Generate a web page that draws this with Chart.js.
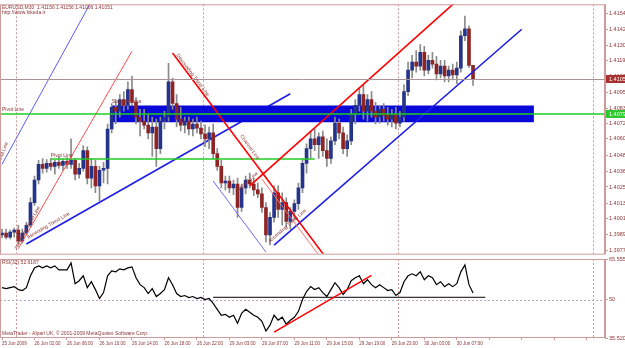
<!DOCTYPE html>
<html lang="en">
<head>
<meta charset="UTF-8">
<title>EURUSD,M30</title>
<style>
    html, body { margin: 0; padding: 0; background: #ffffff; overflow: hidden; }
    #wrap { position: relative; width: 625px; height: 348px; }
    #main { position: absolute; left: 0; top: 0; }
    #rsi { position: absolute; left: 0; top: 254px; }
</style>
<script src="https://cdn.jsdelivr.net/npm/chart.js"></script>
</head>
<body>
<div id="wrap">
    <canvas id="main" width="625" height="258"></canvas>
    <canvas id="rsi" width="625" height="94"></canvas>
</div>
<script>
// ---- data ----
const slots = Array.from({ length: 149 }, (_, i) => i);
const timeLabels = ['25 Jun 2009', '26 Jun 02:00', '26 Jun 06:00', '26 Jun 10:00', '26 Jun 14:00', '26 Jun 18:00',
    '26 Jun 22:00', '29 Jun 03:00', '29 Jun 07:00', '29 Jun 11:00', '29 Jun 15:00', '29 Jun 19:00',
    '29 Jun 23:00', '30 Jun 03:00', '30 Jun 07:00'];
const dayStarts = [4, 50, 98, 146];
const priceTicks = [1.41540, 1.41425, 1.41305, 1.41190, 1.41070, 1.40955, 1.40835, 1.40720,
    1.40608, 1.40485, 1.40365, 1.40250, 1.40130, 1.40015, 1.39895, 1.39775];
const rsiTicks = [65.5557, 50, 35.5205];

const opens = [
    1.39892, 1.39907, 1.39877, 1.39914, 1.39929, 1.39848, 1.39907, 1.39965, 1.40133, 1.40302,
    1.40419, 1.40389, 1.40426, 1.40404, 1.40433, 1.40411, 1.40441, 1.40419, 1.40448, 1.40346,
    1.40389, 1.40521, 1.40316, 1.40404, 1.40258, 1.40375, 1.40389, 1.40682, 1.40843, 1.40814,
    1.40902, 1.40858, 1.40975, 1.40880, 1.40770, 1.40741, 1.40711, 1.40653, 1.40697, 1.40536,
    1.40741, 1.40770, 1.41033, 1.40872, 1.40755, 1.40711, 1.40741, 1.40682, 1.40719, 1.40689,
    1.40645, 1.40609, 1.40653, 1.40499, 1.40404, 1.40280, 1.40294, 1.40243, 1.40272, 1.40097,
    1.40243, 1.40302, 1.40272, 1.40229, 1.40199, 1.40097, 1.39892, 1.40024, 1.40207, 1.40082,
    1.40133, 1.39994, 1.40068, 1.40126, 1.40243, 1.40426, 1.40536, 1.40609, 1.40565, 1.40623,
    1.40521, 1.40462, 1.40594, 1.40726, 1.40653, 1.40536, 1.40594, 1.40792, 1.40858, 1.40938,
    1.40814, 1.40902, 1.40814, 1.40770, 1.40828, 1.40784, 1.40755, 1.40792, 1.40726, 1.40770,
    1.40960, 1.41121, 1.41180, 1.41150, 1.41253, 1.41121, 1.41194, 1.41165, 1.41092, 1.41150,
    1.41077, 1.41121, 1.41084, 1.41136, 1.41377, 1.41428, 1.41156];
const highs = [
    1.39936, 1.39936, 1.39929, 1.39943, 1.39965, 1.39936, 1.39987, 1.40170, 1.40331, 1.40448,
    1.40462, 1.40455, 1.40462, 1.40448, 1.40477, 1.40462, 1.40470, 1.40609, 1.40462, 1.40426,
    1.40558, 1.40550, 1.40462, 1.40448, 1.40404, 1.40433, 1.40719, 1.40872, 1.40902, 1.40938,
    1.40960, 1.41033, 1.41077, 1.40916, 1.40828, 1.40828, 1.40792, 1.40770, 1.40755, 1.40770,
    1.40814, 1.41172, 1.41062, 1.40938, 1.40843, 1.40770, 1.40770, 1.40755, 1.40770, 1.40741,
    1.40711, 1.40697, 1.40719, 1.40536, 1.40448, 1.40331, 1.40331, 1.40302, 1.40316, 1.40272,
    1.40331, 1.40353, 1.40316, 1.40280, 1.40243, 1.40133, 1.40060, 1.40258, 1.40258, 1.40207,
    1.40170, 1.40097, 1.40155, 1.40280, 1.40462, 1.40572, 1.40667, 1.40682, 1.40653, 1.40667,
    1.40609, 1.40623, 1.40770, 1.40755, 1.40697, 1.40638, 1.40828, 1.40902, 1.40989, 1.41011,
    1.40938, 1.40960, 1.40880, 1.40858, 1.40872, 1.40843, 1.40828, 1.40843, 1.40814, 1.41011,
    1.41180, 1.41231, 1.41267, 1.41311, 1.41297, 1.41231, 1.41253, 1.41223, 1.41194, 1.41194,
    1.41150, 1.41165, 1.41180, 1.41414, 1.41523, 1.41450, 1.41156];
const lows = [
    1.39870, 1.39863, 1.39863, 1.39877, 1.39826, 1.39834, 1.39892, 1.39951, 1.40112, 1.40272,
    1.40353, 1.40360, 1.40375, 1.40346, 1.40389, 1.40375, 1.40389, 1.40389, 1.40302, 1.40316,
    1.40367, 1.40272, 1.40243, 1.40207, 1.40148, 1.40280, 1.40272, 1.40653, 1.40719, 1.40770,
    1.40814, 1.40828, 1.40858, 1.40719, 1.40631, 1.40682, 1.40609, 1.40477, 1.40404, 1.40499,
    1.40682, 1.40741, 1.40828, 1.40697, 1.40667, 1.40653, 1.40638, 1.40631, 1.40653, 1.40609,
    1.40550, 1.40536, 1.40462, 1.40375, 1.40243, 1.40229, 1.40207, 1.40192, 1.40024, 1.40068,
    1.40199, 1.40243, 1.40185, 1.40170, 1.40060, 1.39841, 1.39819, 1.39987, 1.40024, 1.39965,
    1.39951, 1.39936, 1.40009, 1.40082, 1.40207, 1.40353, 1.40462, 1.40521, 1.40462, 1.40477,
    1.40404, 1.40426, 1.40565, 1.40609, 1.40499, 1.40477, 1.40565, 1.40719, 1.40814, 1.40755,
    1.40741, 1.40770, 1.40719, 1.40726, 1.40741, 1.40711, 1.40697, 1.40682, 1.40697, 1.40741,
    1.40931, 1.41062, 1.41106, 1.41121, 1.41077, 1.41092, 1.41136, 1.41048, 1.41062, 1.41033,
    1.41033, 1.41048, 1.41019, 1.41106, 1.41340, 1.41140, 1.41006];
const closes = [
    1.39907, 1.39877, 1.39914, 1.39929, 1.39848, 1.39907, 1.39965, 1.40133, 1.40302, 1.40419,
    1.40389, 1.40426, 1.40404, 1.40433, 1.40411, 1.40441, 1.40419, 1.40448, 1.40346, 1.40389,
    1.40521, 1.40316, 1.40404, 1.40258, 1.40375, 1.40389, 1.40682, 1.40843, 1.40814, 1.40902,
    1.40858, 1.40975, 1.40880, 1.40770, 1.40741, 1.40711, 1.40653, 1.40697, 1.40536, 1.40741,
    1.40770, 1.41033, 1.40872, 1.40755, 1.40711, 1.40741, 1.40682, 1.40719, 1.40689, 1.40645,
    1.40609, 1.40653, 1.40499, 1.40404, 1.40280, 1.40294, 1.40243, 1.40272, 1.40097, 1.40243,
    1.40302, 1.40272, 1.40229, 1.40199, 1.40097, 1.39892, 1.40024, 1.40207, 1.40082, 1.40133,
    1.39994, 1.40068, 1.40126, 1.40243, 1.40426, 1.40536, 1.40609, 1.40565, 1.40623, 1.40521,
    1.40462, 1.40594, 1.40726, 1.40653, 1.40536, 1.40594, 1.40792, 1.40858, 1.40938, 1.40814,
    1.40902, 1.40814, 1.40770, 1.40828, 1.40784, 1.40755, 1.40792, 1.40726, 1.40770, 1.40960,
    1.41121, 1.41180, 1.41150, 1.41253, 1.41121, 1.41194, 1.41165, 1.41092, 1.41150, 1.41077,
    1.41121, 1.41084, 1.41136, 1.41377, 1.41428, 1.41156, 1.41051];
const rsi = [
    54.67, 54.29, 54.67, 55.05, 53.92, 53.54, 54.67, 59.17, 62.18, 62.93,
    62.18, 62.93, 62.18, 62.93, 61.43, 61.43, 61.43, 64.05, 56.17, 57.30,
    59.17, 54.67, 56.92, 53.92, 50.54, 52.79, 59.17, 61.05, 60.68, 61.80,
    61.43, 62.18, 62.55, 58.42, 55.80, 54.67, 52.42, 54.29, 51.29, 52.42,
    53.92, 58.42, 55.80, 52.42, 51.29, 51.67, 50.92, 51.29, 50.54, 50.92,
    50.16, 50.54, 48.66, 46.41, 44.16, 44.53, 43.41, 44.16, 41.15, 44.91,
    46.41, 45.28, 44.16, 43.41, 41.90, 38.15, 40.40, 44.16, 42.28, 43.41,
    40.78, 42.28, 43.41, 45.66, 50.16, 53.17, 55.05, 53.92, 54.67, 52.79,
    51.29, 53.92, 56.55, 54.67, 52.04, 53.92, 57.30, 58.42, 59.17, 56.17,
    57.67, 55.80, 54.67, 55.80, 54.67, 53.54, 53.92, 51.67, 52.79, 56.92,
    59.17, 59.93, 59.17, 60.68, 57.67, 59.17, 58.42, 55.80, 56.92, 55.05,
    56.17, 55.05, 56.17, 60.68, 63.30, 55.80, 52.62];

const bidPrice = 1.41051;
const pivotPrice = 1.40797;
const bandTop = 1.40857;
const bandBottom = 1.40733;
const bandFrom = 27, bandTo = 131;

// trend lines: [bar index, price]
const lines = {
    channelUpper: [[0, 1.40419], [22, 1.41633]],
    channelRed: [[4, 1.39790], [32, 1.41261]],
    supportBlue: [[6, 1.39825], [71, 1.40945]],
    descending: [[42, 1.41248], [80, 1.39714]],
    descendingTwin: [[64, 1.40309], [79, 1.39703]],
    channelLower: [[52, 1.40294], [65, 1.39765]],
    ascendingBlue: [[67, 1.39817], [128, 1.41425]],
    ascendingRed: [[61, 1.40258], [113, 1.41664]],
    pivotShort: [[12, 1.40459], [77, 1.40459]]
};
const rsiLines = {
    flat: [[52, 51.0], [119, 51.0]],
    trend: [[67, 37.77], [91, 59.32]]
};

// labels of the drawn objects: [bar index, price], angle in degrees
const notes = [
    ['Pivot Line', 0, 1.40814, 0],
    ['Pivot Line', 12, 1.40477, 0],
    ['Support Area', 27, 1.40872, 0],
    ['Channel Line', -1, 1.40375, -70],
    ['Ascending Trend Line', 3.6, 1.39782, -61],
    ['Ascending Trend Line', 6.4, 1.39863, -30],
    ['Descending Trend Line', 42.9, 1.41231, 53],
    ['Channel Line', 58.6, 1.40630, 54],
    ['Support Line', 57.9, 1.40207, -42],
    ['Ascending Trend Line', 66, 1.39834, -41]
];

// ---- styles ----
const TEXT = '#8E3434';
const FRAME = '#CF9A9A';
const FONT = '"Liberation Sans", Arial, sans-serif';
Chart.defaults.font.family = FONT;

function seg(pts, color, width, order) {
    return {
        type: 'line',
        data: pts.map(p => ({ x: p[0], y: p[1] })),
        borderColor: color,
        borderWidth: width,
        pointRadius: 0,
        tension: 0,
        fill: false,
        clip: 0,
        order: order
    };
}

function vLines(chart, values) {
    const { ctx, chartArea: a, scales: { x } } = chart;
    ctx.save();
    ctx.strokeStyle = FRAME;
    ctx.lineWidth = 1;
    ctx.setLineDash([2, 2]);
    values.forEach(d => {
        const px = Math.round(x.getPixelForValue(d - 0.5)) + 0.5;
        ctx.beginPath();
        ctx.moveTo(px, a.top);
        ctx.lineTo(px, a.bottom);
        ctx.stroke();
    });
    ctx.restore();
}

function axisBox(chart, price, label, bg) {
    const { ctx, chartArea: a, scales: { y } } = chart;
    const py = Math.round(y.getPixelForValue(price));
    ctx.fillStyle = bg;
    ctx.fillRect(a.right + 1, py - 4, 24, 8);
    ctx.fillStyle = '#ffffff';
    ctx.font = '5.5px ' + FONT;
    ctx.textBaseline = 'middle';
    ctx.textAlign = 'left';
    ctx.fillText(label, a.right + 4, py + 0.5);
}

const mainDecor = {
    id: 'mainDecor',
    beforeDatasetsDraw(chart) {
        vLines(chart, dayStarts);
    },
    afterDatasetsDraw(chart) {
        const { ctx, chartArea: a, scales: { x, y } } = chart;
        ctx.save();
        // bid line
        let py = Math.round(y.getPixelForValue(bidPrice)) + 0.5;
        ctx.strokeStyle = '#A89292';
        ctx.lineWidth = 1;
        ctx.beginPath(); ctx.moveTo(a.left, py); ctx.lineTo(a.right, py); ctx.stroke();
        // pivot line
        py = Math.round(y.getPixelForValue(pivotPrice));
        ctx.strokeStyle = '#22CC22';
        ctx.lineWidth = 1.5;
        ctx.beginPath(); ctx.moveTo(a.left, py); ctx.lineTo(a.right, py); ctx.stroke();

        // object labels
        ctx.fillStyle = TEXT;
        ctx.font = '5px ' + FONT;
        ctx.textAlign = 'left';
        ctx.textBaseline = 'alphabetic';
        notes.forEach(n => {
            ctx.save();
            ctx.translate(x.getPixelForValue(n[1]), y.getPixelForValue(n[2]));
            ctx.rotate(n[3] * Math.PI / 180);
            ctx.fillText(n[0], 0, 0);
            ctx.restore();
        });

        // header
        ctx.fillStyle = TEXT;
        ctx.font = '5px ' + FONT;
        ctx.fillText('EURUSD,M30  1.41156 1.41156 1.41006 1.41051', a.left + 2, a.top + 5);
        ctx.fillText('http://www.fxkeda.ir', a.left + 2, a.top + 10);

        // frame
        ctx.strokeStyle = FRAME;
        ctx.lineWidth = 1;
        ctx.strokeRect(a.left + 0.5, a.top + 0.5, a.right - a.left - 1, a.bottom - a.top);

        axisBox(chart, bidPrice, bidPrice.toFixed(5), '#A83232');
        axisBox(chart, pivotPrice, pivotPrice.toFixed(5), '#2EC82E');
        ctx.restore();
    }
};

const bull = '#24348A', bear = '#8E2424', wick = '#8A8A8A';

new Chart(document.getElementById('main'), {
    type: 'bar',
    data: {
        labels: slots,
        datasets: [
            seg(lines.supportBlue, '#1E1EE6', 1.6, 20),
            {
                type: 'line',
                data: [{ x: bandFrom, y: bandTop }, { x: bandTo, y: bandTop }],
                borderColor: '#0808D8', borderWidth: 0, pointRadius: 0, fill: false, order: 15
            },
            {
                type: 'line',
                data: [{ x: bandFrom, y: bandBottom }, { x: bandTo, y: bandBottom }],
                borderColor: '#0808D8', borderWidth: 0, pointRadius: 0,
                fill: '-1', backgroundColor: '#0808D8', order: 14
            },
            {
                data: highs.map((h, i) => [lows[i], h]),
                backgroundColor: wick,
                barThickness: 1,
                grouped: false,
                order: 6
            },
            {
                data: opens.map((o, i) => [o, closes[i]]),
                backgroundColor: c => closes[c.dataIndex] >= opens[c.dataIndex] ? bull : bear,
                barThickness: 3,
                grouped: false,
                order: 5
            },
            seg(lines.channelUpper, '#5A5AFF', 1, 1),
            seg(lines.channelRed, '#FF4A4A', 1, 1),
            seg(lines.descending, '#FF0000', 1.6, 1),
            seg(lines.descendingTwin, '#FF7070', 1, 1),
            seg(lines.channelLower, '#6A6AFF', 1, 1),
            seg(lines.ascendingBlue, '#1E1EE6', 1.6, 1),
            seg(lines.ascendingRed, '#FF0000', 1.6, 1),
            seg(lines.pivotShort, '#22CC22', 1.5, 2)
        ]
    },
    options: {
        responsive: false,
        animation: false,
        layout: { padding: { top: 3, bottom: 1, left: 0, right: 0 } },
        plugins: { legend: { display: false }, tooltip: { enabled: false } },
        scales: {
            x: {
                offset: true,
                grid: { display: false },
                ticks: { display: false },
                border: { display: false },
                afterFit: s => { s.height = 0; }
            },
            y: {
                position: 'right',
                min: 1.39753,
                max: 1.41611,
                afterBuildTicks: s => { s.ticks = priceTicks.map(v => ({ value: v })); },
                afterFit: s => { s.width = 20; },
                ticks: {
                    autoSkip: false,
                    padding: 1,
                    color: TEXT,
                    font: { size: 5.5 },
                    callback: v => v.toFixed(5)
                },
                grid: { drawOnChartArea: false, tickLength: 3, color: FRAME },
                border: { color: FRAME }
            }
        }
    },
    plugins: [mainDecor]
});

const rsiDecor = {
    id: 'rsiDecor',
    beforeDatasetsDraw(chart) {
        const { ctx, chartArea: a, scales: { y } } = chart;
        vLines(chart, dayStarts);
        ctx.save();
        const py = Math.round(y.getPixelForValue(50)) + 0.5;
        ctx.strokeStyle = '#B6A6CC';
        ctx.setLineDash([2, 2]);
        ctx.beginPath(); ctx.moveTo(a.left, py); ctx.lineTo(a.right, py); ctx.stroke();
        ctx.restore();
    },
    afterDatasetsDraw(chart) {
        const { ctx, chartArea: a } = chart;
        ctx.save();
        ctx.fillStyle = TEXT;
        ctx.font = '5px ' + FONT;
        ctx.textAlign = 'left';
        ctx.fillText('RSI(32) 52.6187', a.left + 2, a.top + 5);
        ctx.fillText('MetaTrader - Alpari UK, \u00A9 2001-2009 MetaQuotes Software Corp.', a.left + 2, a.bottom - 3);
        ctx.strokeStyle = FRAME;
        ctx.lineWidth = 1;
        ctx.strokeRect(a.left + 0.5, a.top + 0.5, a.right - a.left - 1, a.bottom - a.top - 1);
        ctx.restore();
    }
};

new Chart(document.getElementById('rsi'), {
    type: 'line',
    data: {
        labels: slots,
        datasets: [
            { data: rsi, borderColor: '#000000', borderWidth: 1.2, pointRadius: 0, tension: 0, fill: false, clip: 0, order: 3 },
            seg(rsiLines.flat, '#000000', 1, 2),
            seg(rsiLines.trend, '#FF0000', 1.5, 1)
        ]
    },
    options: {
        responsive: false,
        animation: false,
        layout: { padding: { top: 5, bottom: 0, left: 0, right: 0 } },
        plugins: { legend: { display: false }, tooltip: { enabled: false } },
        scales: {
            x: {
                offset: true,
                afterFit: s => { s.height = 10; },
                border: { display: false },
                grid: {
                    offset: false,
                    drawOnChartArea: false,
                    tickLength: 2,
                    color: FRAME,
                    tickColor: c => c.index % 8 === 0 ? FRAME : 'rgba(0,0,0,0)'
                },
                ticks: {
                    autoSkip: false,
                    maxRotation: 0,
                    minRotation: 0,
                    align: 'start',
                    padding: 1,
                    color: TEXT,
                    font: { size: 4.5 },
                    callback: (v, i) => (i % 8 === 0 && timeLabels[i / 8]) ? timeLabels[i / 8] : ''
                }
            },
            y: {
                position: 'right',
                min: 35.5205,
                max: 65.5557,
                afterBuildTicks: s => { s.ticks = rsiTicks.map(v => ({ value: v })); },
                afterFit: s => { s.width = 20; },
                ticks: {
                    autoSkip: false,
                    padding: 1,
                    color: TEXT,
                    font: { size: 5.5 },
                    callback: v => v === 50 ? '50' : v.toFixed(4)
                },
                grid: { drawOnChartArea: false, tickLength: 3, color: FRAME },
                border: { color: FRAME }
            }
        }
    },
    plugins: [rsiDecor]
});
</script>
</body>
</html>
